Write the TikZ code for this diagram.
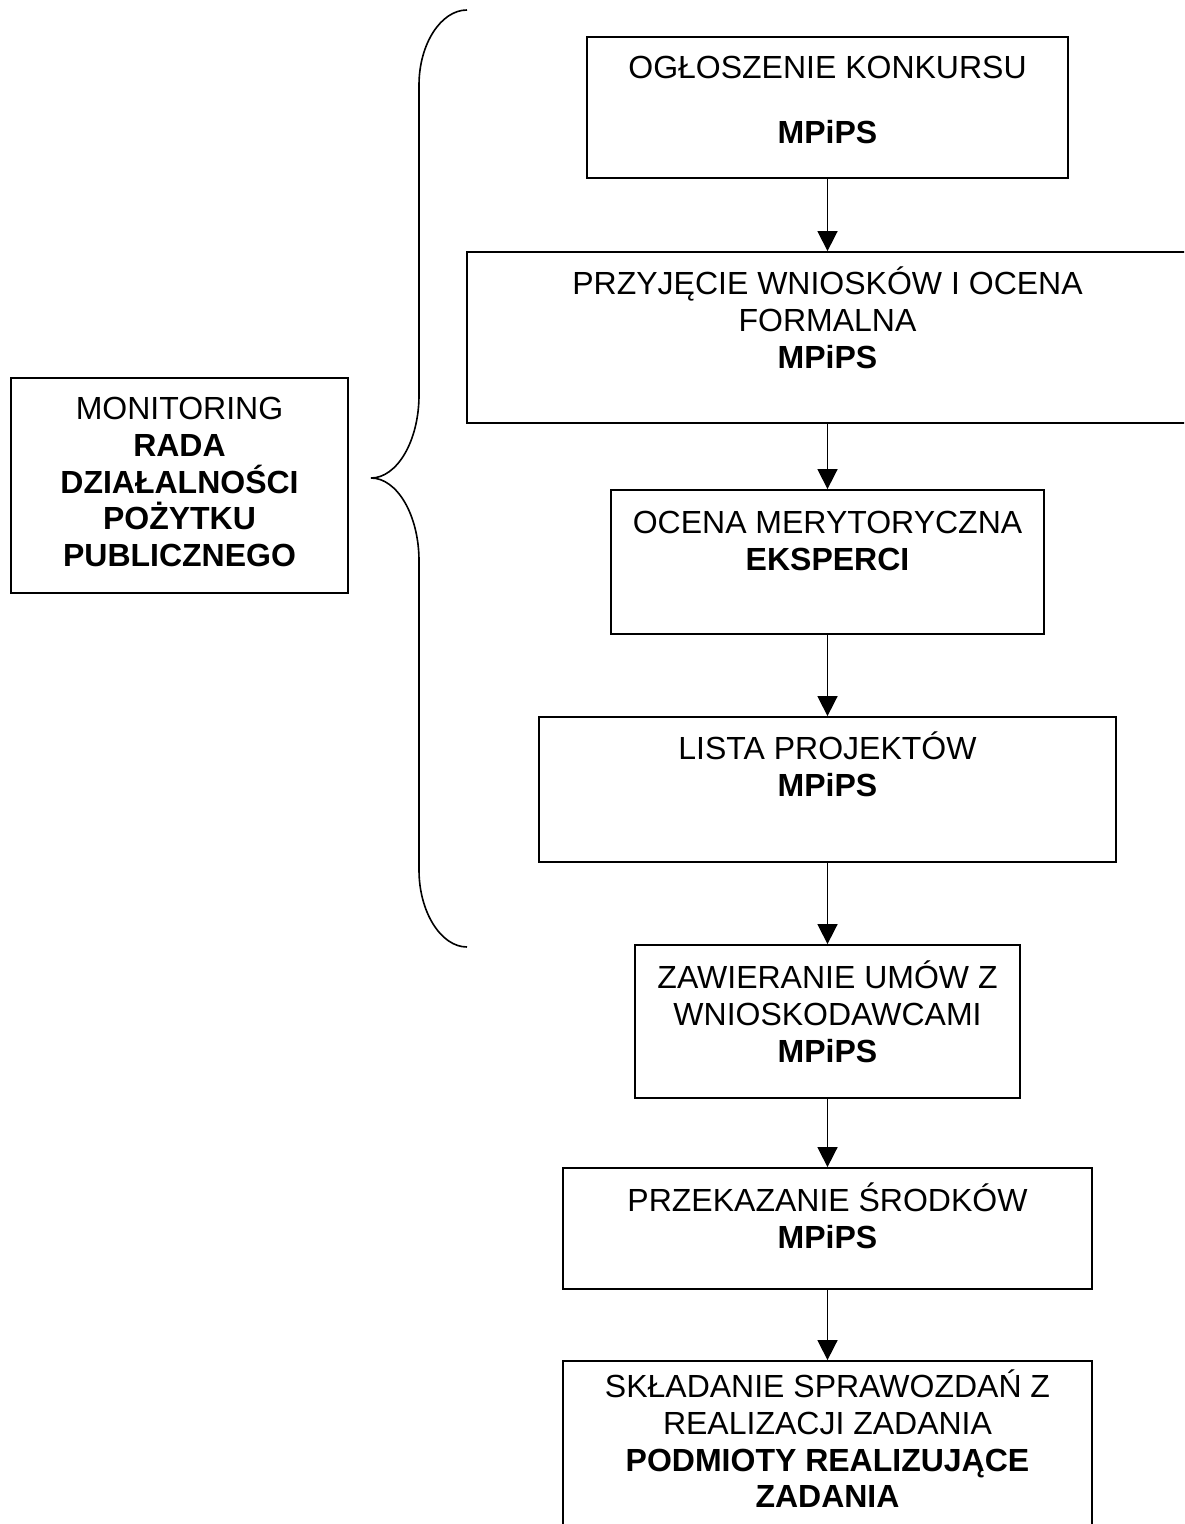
\documentclass[tikz,border=0pt]{standalone}
\usepackage{fontspec}
\setmainfont{Liberation Sans}
\usetikzlibrary{fit,arrows.meta}
\begin{document}
\begin{tikzpicture}[x=0.5pt,y=-0.5pt,
  box/.style={draw, line width=0.9pt, rectangle, inner sep=0pt},
  txt/.style={anchor=north, align=center, inner sep=0pt,
    font=\fontsize{16pt}{18.3pt}\selectfont},
  arr/.style={draw, line width=0.8pt, -{Triangle[length=10pt,width=10pt]}},
  brace/.style={draw, line width=0.8pt}]
\path[use as bounding box, clip] (0,0) rectangle (1184,1524);
\fill[white] (0,0) rectangle (1184,1524);
% box corners
\coordinate (b1nw) at (587,37);   \coordinate (b1se) at (1068,178);
\coordinate (b2nw) at (467,252);  \coordinate (b2se) at (1200,423);
\coordinate (b3nw) at (611,490);  \coordinate (b3se) at (1044,634);
\coordinate (b4nw) at (539,717);  \coordinate (b4se) at (1116,862);
\coordinate (b5nw) at (635,945);  \coordinate (b5se) at (1020,1098);
\coordinate (b6nw) at (563,1168); \coordinate (b6se) at (1092,1289);
\coordinate (b7nw) at (563,1361); \coordinate (b7se) at (1092,1545);
\coordinate (mnw) at (11,378);    \coordinate (mse) at (348,593);
\node[box, fit=(b1nw)(b1se)] (b1) {};
\node[box, fit=(b2nw)(b2se)] (b2) {};
\node[box, fit=(b3nw)(b3se)] (b3) {};
\node[box, fit=(b4nw)(b4se)] (b4) {};
\node[box, fit=(b5nw)(b5se)] (b5) {};
\node[box, fit=(b6nw)(b6se)] (b6) {};
\node[box, fit=(b7nw)(b7se)] (b7) {};
\node[box, fit=(mnw)(mse)] (mon) {};
% texts
\node[txt] (t1) at (827.5,46.5) {\rule{0pt}{16pt}OGŁOSZENIE KONKURSU\\[14pt]\textbf{MPiPS}};
\node[txt] (t2) at (827.5,262.5) {\rule{0pt}{16pt}PRZYJĘCIE WNIOSKÓW I OCENA\\FORMALNA\\\textbf{MPiPS}};
\node[txt] (t3) at (827.5,501.5) {\rule{0pt}{16pt}OCENA MERYTORYCZNA\\\textbf{EKSPERCI}};
\node[txt] (t4) at (827.5,727.5) {\rule{0pt}{16pt}LISTA PROJEKTÓW\\\textbf{MPiPS}};
\node[txt] (t5) at (827.5,956.5) {\rule{0pt}{16pt}ZAWIERANIE UMÓW Z\\WNIOSKODAWCAMI\\\textbf{MPiPS}};
\node[txt] (t6) at (827.5,1179.5) {\rule{0pt}{16pt}PRZEKAZANIE ŚRODKÓW\\\textbf{MPiPS}};
\node[txt] (t7) at (827.5,1365.5) {\rule{0pt}{16pt}SKŁADANIE SPRAWOZDAŃ Z\\REALIZACJI ZADANIA\\\textbf{PODMIOTY REALIZUJĄCE}\\\textbf{ZADANIA}};
\node[txt] (tm) at (179.5,387.5) {\rule{0pt}{16pt}MONITORING\\\textbf{RADA}\\\textbf{DZIAŁALNOŚCI}\\\textbf{POŻYTKU}\\\textbf{PUBLICZNEGO}};
% arrows
\draw[arr] (b1.south) -- (b1.south |- b2.north);
\draw[arr] (b3.north |- b2.south) -- (b3.north);
\draw[arr] (b3.south) -- (b4.north);
\draw[arr] (b4.south) -- (b5.north);
\draw[arr] (b5.south) -- (b6.north);
\draw[arr] (b6.south) -- (b7.north);
% brace
\coordinate (brtop) at (467,10);
\coordinate (brtip) at (371,478);
\coordinate (brbot) at (467,947);
\draw[brace] (brtop) .. controls (441,10) and (419,44) .. (419,85)
  -- (419,395) .. controls (419,441) and (397,478) .. (brtip)
  .. controls (397,478) and (419,515) .. (419,561)
  -- (419,870) .. controls (419,912) and (441,947) .. (brbot);
\end{tikzpicture}
\end{document}
